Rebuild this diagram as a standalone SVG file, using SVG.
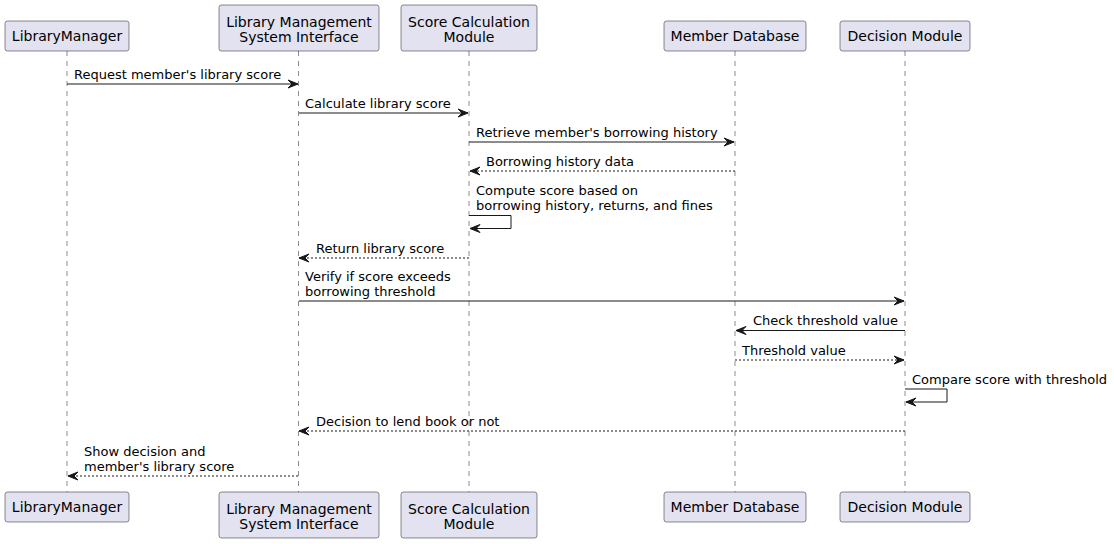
<svg xmlns="http://www.w3.org/2000/svg" width="1114" height="544" viewBox="0 0 1114 544">
<style>
.box{fill:#E2E2F0;stroke:#181818;stroke-width:0.5}
.life{stroke:#181818;stroke-width:0.5;stroke-dasharray:5,5;fill:none}
.ptxt{font-family:"DejaVu Sans",sans-serif;font-size:14px;fill:#000;text-anchor:middle}
.mtxt{font-family:"DejaVu Sans",sans-serif;font-size:13px;fill:#000}
.msg{stroke:#181818;stroke-width:1;fill:none;marker-end:url(#ah)}
.ret{stroke:#181818;stroke-width:1;fill:none;stroke-dasharray:2,2;marker-end:url(#ah)}
.head{fill:#181818;stroke:#181818;stroke-width:1}
</style>
<defs>
<marker id="ah" markerUnits="userSpaceOnUse" markerWidth="12" markerHeight="10" refX="10" refY="4" orient="auto" overflow="visible">
<path class="head" d="M0,0 L10,4 L0,8 L4,4 Z"/>
</marker>
</defs>
<g id="lifelines">
<line class="life" x1="67" y1="51" x2="67" y2="492"/>
<line class="life" x1="298.5" y1="51" x2="298.5" y2="492"/>
<line class="life" x1="469" y1="51" x2="469" y2="492"/>
<line class="life" x1="735" y1="51" x2="735" y2="492"/>
<line class="life" x1="905" y1="51" x2="905" y2="492"/>
</g>
<g id="p-librarymanager">
<rect class="box" x="5" y="21" width="124" height="30" rx="2.5"/>
<text class="ptxt" x="67" y="40.5">LibraryManager</text>
<rect class="box" x="5" y="492" width="124" height="30" rx="2.5"/>
<text class="ptxt" x="67" y="511.5">LibraryManager</text>
</g>
<g id="p-lmsi">
<rect class="box" x="219" y="5" width="160" height="46" rx="2.5"/>
<text class="ptxt" x="299" y="26.5">Library Management</text>
<text class="ptxt" x="299" y="42">System Interface</text>
<rect class="box" x="219" y="492" width="160" height="46" rx="2.5"/>
<text class="ptxt" x="299" y="513.5">Library Management</text>
<text class="ptxt" x="299" y="529">System Interface</text>
</g>
<g id="p-scm">
<rect class="box" x="401" y="5" width="136" height="46" rx="2.5"/>
<text class="ptxt" x="469" y="26.5">Score Calculation</text>
<text class="ptxt" x="469" y="42">Module</text>
<rect class="box" x="401" y="492" width="136" height="46" rx="2.5"/>
<text class="ptxt" x="469" y="513.5">Score Calculation</text>
<text class="ptxt" x="469" y="529">Module</text>
</g>
<g id="p-memberdb">
<rect class="box" x="664" y="21" width="142" height="30" rx="2.5"/>
<text class="ptxt" x="735" y="40.5">Member Database</text>
<rect class="box" x="664" y="492" width="142" height="30" rx="2.5"/>
<text class="ptxt" x="735" y="511.5">Member Database</text>
</g>
<g id="p-decision">
<rect class="box" x="840" y="21" width="130" height="30" rx="2.5"/>
<text class="ptxt" x="905" y="40.5">Decision Module</text>
<rect class="box" x="840" y="492" width="130" height="30" rx="2.5"/>
<text class="ptxt" x="905" y="511.5">Decision Module</text>
</g>
<g id="connectors">
<line class="msg" x1="67" y1="84" x2="298" y2="84"/>
<text class="mtxt" x="74" y="79">Request member's library score</text>
<line class="msg" x1="299" y1="113" x2="468" y2="113"/>
<text class="mtxt" x="305" y="108">Calculate library score</text>
<line class="msg" x1="469" y1="142" x2="734" y2="142"/>
<text class="mtxt" x="476" y="137">Retrieve member's borrowing history</text>
<line class="ret" x1="735" y1="171" x2="470" y2="171"/>
<text class="mtxt" x="486" y="166">Borrowing history data</text>
<polyline class="msg" points="469,215.5 511,215.5 511,228.5 470,228.5"/>
<text class="mtxt" x="476" y="195">Compute score based on</text>
<text class="mtxt" x="476" y="210">borrowing history, returns, and fines</text>
<line class="ret" x1="469" y1="258" x2="299" y2="258"/>
<text class="mtxt" x="316" y="253">Return library score</text>
<line class="msg" x1="299" y1="301" x2="904" y2="301"/>
<text class="mtxt" x="305" y="281">Verify if score exceeds</text>
<text class="mtxt" x="305" y="296">borrowing threshold</text>
<line class="msg" x1="905" y1="330.5" x2="736" y2="330.5"/>
<text class="mtxt" x="753" y="325">Check threshold value</text>
<line class="ret" x1="735" y1="360" x2="904" y2="360"/>
<text class="mtxt" x="742" y="355">Threshold value</text>
<polyline class="msg" points="905,389 947,389 947,402 906,402"/>
<text class="mtxt" x="912" y="384">Compare score with threshold</text>
<line class="ret" x1="905" y1="431" x2="299" y2="431"/>
<text class="mtxt" x="316" y="426">Decision to lend book or not</text>
<line class="ret" x1="298" y1="476" x2="68" y2="476"/>
<text class="mtxt" x="84" y="456">Show decision and</text>
<text class="mtxt" x="84" y="471">member's library score</text>
</g>
</svg>
